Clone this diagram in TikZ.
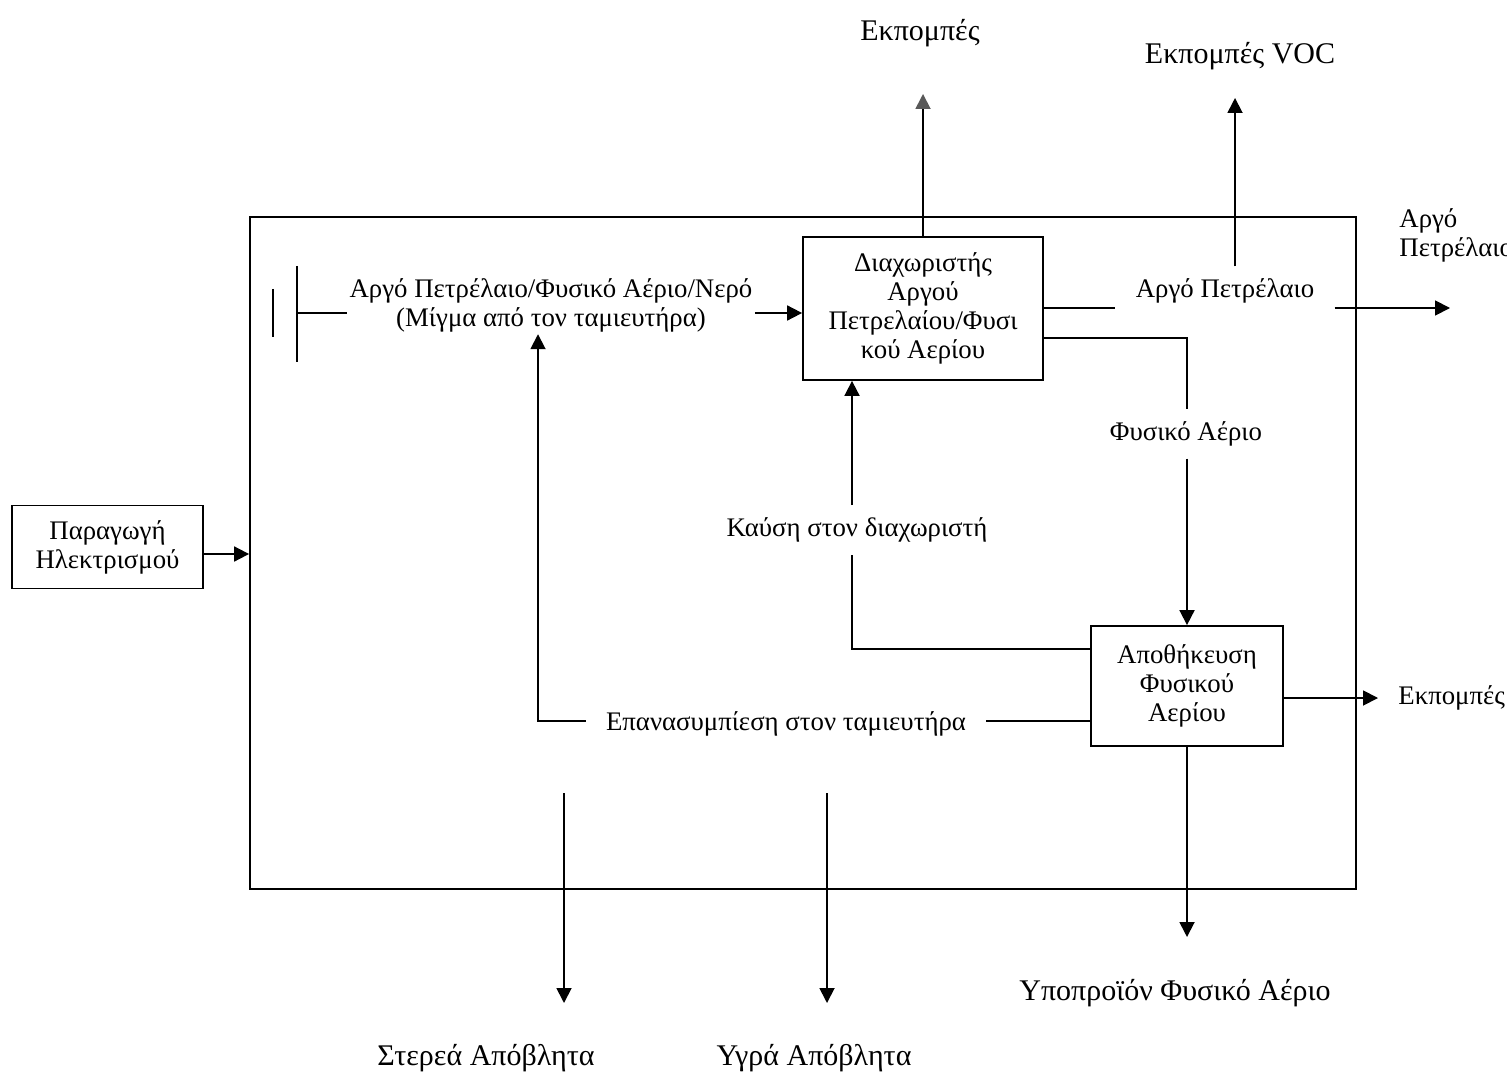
\documentclass[tikz,border=0pt]{standalone}
\usepackage{fontspec}
\setmainfont{Liberation Serif}
\usetikzlibrary{arrows.meta,calc}

% text sizes
\newcommand\finner{\fontsize{13.4pt}{14.5pt}\selectfont}
\newcommand\fouter{\fontsize{15pt}{18pt}\selectfont}

\begin{document}
\begin{tikzpicture}[x=0.5pt,y=-0.5pt,
  ln/.style={line width=0.9pt},
  arr/.style={ln,-{Triangle[length=7.5pt,width=7.5pt]}},
  greyarr/.style={ln,-{Triangle[length=7.5pt,width=7.5pt,color=black!65]}},
  box/.style={draw,ln,align=center,font=\finner,inner sep=0pt},
  txt/.style={align=center,font=\finner,inner sep=0pt},
  big/.style={align=center,font=\fouter,inner sep=0pt}]

\useasboundingbox (0,0) rectangle (1507,1080);
\fill[white] (0,0) rectangle (1507,1080);

% system boundary
\node[draw,ln,minimum width=553pt,minimum height=336pt,inner sep=0pt] (sys) at (803,553) {};

% process blocks
\node[box,minimum width=120pt,minimum height=71.5pt] (sep) at (923,308.5)
  {Διαχωριστής\\Αργού\\Πετρελαίου/Φυσι\\κού Αερίου};
\node[box,minimum width=96pt,minimum height=60pt] (stor) at (1187,686)
  {Αποθήκευση\\Φυσικού\\Αερίου};
\node[box,minimum width=95.5pt,minimum height=41.5pt] (power) at (107.5,547)
  {Παραγωγή\\Ηλεκτρισμού};

% labels inside the boundary
\node[txt,inner sep=1pt] (mix) at (551,305)
  {Αργό Πετρέλαιο/Φυσικό Αέριο/Νερό\\(Μίγμα από τον ταμιευτήρα)};
\node[txt,inner xsep=10pt] (oil) at (1225,291) {Αργό Πετρέλαιο};
\node[txt,inner ysep=6pt] (gas) at (1186,434) {Φυσικό Αέριο};
\node[txt,minimum height=24.5pt] (comb) at (857,530) {Καύση στον διαχωριστή};
\node[txt,inner xsep=10pt] (rec) at (786,724) {Επανασυμπίεση στον ταμιευτήρα};

% labels outside the boundary
\node[big] (em1) at (920,33) {Εκπομπές};
\node[big] (voc) at (1240,56) {Εκπομπές VOC};
\node[txt,align=left,anchor=north west] (oilout) at (1399,208) {Αργό\\Πετρέλαιο};
\node[txt,anchor=west] (ems) at (1398,698) {Εκπομπές};
\node[big] (byp) at (1175,993) {Υποπροϊόν Φυσικό Αέριο};
\node[big] (solid) at (486,1058) {Στερεά Απόβλητα};
\node[big] (liquid) at (814,1058) {Υγρά Απόβλητα};

% well head symbol and feed
\coordinate (inY) at (297,313);
\draw[ln] (273,289) -- (273,337);
\draw[ln] (297,266) -- (297,362);
\draw[ln] (inY) -- (mix.west |- inY);
\draw[arr] (mix.east |- inY) -- (sep.west |- inY);

% power supply
\coordinate (pwin) at (250,554);
\draw[arr] (power.east |- pwin) -- (sys.west |- pwin);

% separator emissions
\coordinate (em1tip) at (923,94);
\draw[greyarr] (sep.north) -- (em1tip);

% crude oil out and VOC
\coordinate (voctip) at (1235,98);
\coordinate (oiltip) at (1450,308);
\draw[ln] (sep.east |- oiltip) -- (oil.west |- oiltip);
\draw[arr] (oil.east |- oiltip) -- (oiltip);
\draw[arr,shorten <=6pt] (oil.north -| voctip) -- (voctip);

% gas to storage
\coordinate (gasturn) at (1187,338);
\draw[ln] (sep.east |- gasturn) -- (gasturn) -- (gasturn |- gas.north);
\draw[arr] (gasturn |- gas.south) -- (stor.north);

% combustion in separator
\coordinate (combturn) at (852,649);
\draw[ln] (stor.west |- combturn) -- (combturn) -- (combturn |- comb.south);
\draw[arr] (combturn |- comb.north) -- (combturn |- sep.south);

% reinjection to reservoir
\coordinate (recturn) at (538,721);
\draw[ln] (stor.west |- recturn) -- (rec.east |- recturn);
\draw[arr] (rec.west |- recturn) -- (recturn) -- (recturn |- mix.south);

% storage emissions and by-product
\draw[arr,shorten >=10pt] (stor.east |- ems.west) -- (ems.west);
\coordinate (byptip) at (1187,937);
\draw[arr] (stor.south) -- (byptip);

% waste streams
\coordinate (solidtop) at (564,793);
\coordinate (solidtip) at (564,1003);
\coordinate (liquidtop) at (827,793);
\coordinate (liquidtip) at (827,1003);
\draw[arr] (solidtop) -- (solidtip);
\draw[arr] (liquidtop) -- (liquidtip);

\end{tikzpicture}
\end{document}
